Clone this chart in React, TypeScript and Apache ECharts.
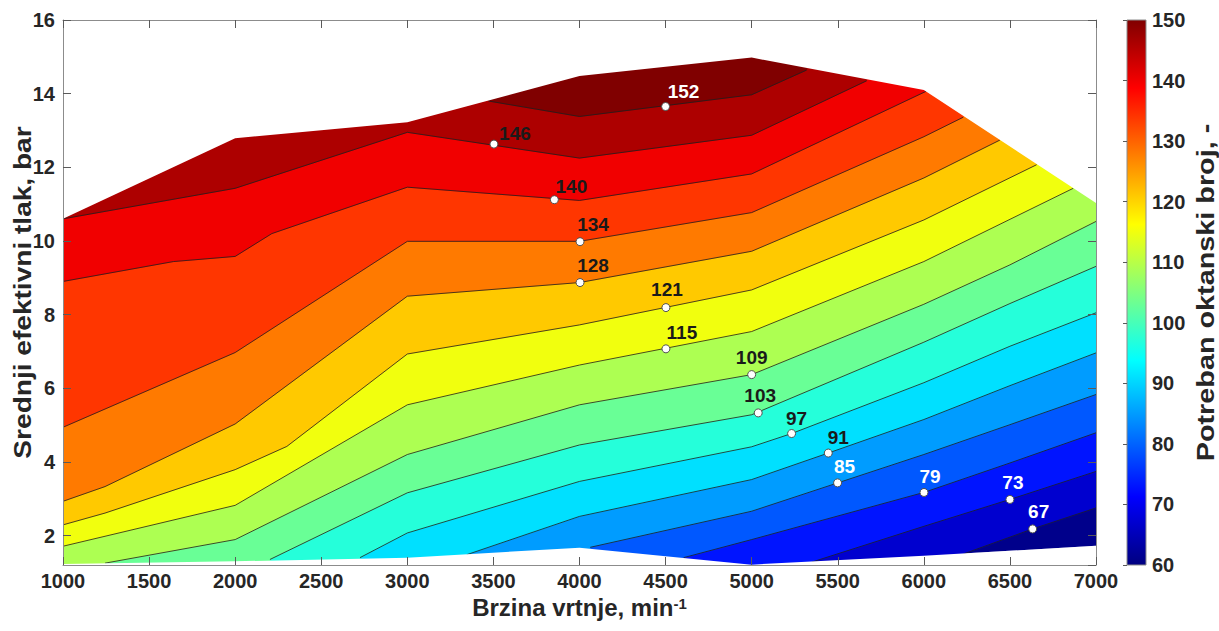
import React, { useEffect, useRef } from "react";
import * as echarts from "echarts";

// ---------- data (rpm, bar) ----------
const rpmMin = 1000;
const rpmMax = 7000;
const barMin = 1.2;
const barMax = 16;
const colorMin = 60;
const colorMax = 150;

const topBoundary = [[1000, 10.6], [2000, 12.79], [3000, 13.22], [4000, 14.48], [5000, 14.98], [6000, 14.1], [7000, 11.03]];
const bottomBoundary = [[1000, 1.23], [2000, 1.3], [3000, 1.4], [4000, 1.67], [5000, 1.21], [6000, 1.45], [7000, 1.72]];

const baseLevel = 61;
const levels = [67, 73, 79, 85, 91, 97, 103, 109, 115, 121, 128, 134, 140, 146, 152];

const c67 = [[6230, 1.5], [6632, 2.18], [7000, 2.75]];
const c73 = [[5350, 1.28], [6000, 2.25], [6500, 2.98], [7000, 3.74]];
const c79 = [[4605, 1.4], [5000, 1.89], [6000, 3.17], [6500, 3.97], [7000, 4.79]];
const c85 = [[4062, 1.68], [5000, 2.66], [5500, 3.43], [6000, 4.2], [6500, 5.01], [7000, 5.83]];
const c91 = [[3345, 1.48], [4000, 2.52], [5000, 3.52], [5445, 4.24], [6000, 5.15], [6500, 6.07], [7000, 6.96]];
const c97 = [[2725, 1.4], [3000, 2.07], [4000, 3.47], [5000, 4.41], [5232, 4.77], [6000, 6.15], [6500, 7.14], [7000, 8.05]];
const c103 = [[2202, 1.35], [3000, 3.16], [4000, 4.46], [5000, 5.28], [6000, 7.25], [6500, 8.3], [7000, 9.31]];
const c109 = [[1244, 1.25], [2000, 1.89], [3000, 4.2], [4000, 5.55], [5000, 6.37], [6000, 8.28], [6500, 9.35], [7000, 10.53]];
const c115 = [[1000, 1.71], [1244, 1.98], [2000, 2.82], [3000, 5.55], [4000, 6.63], [5000, 7.54], [6000, 9.44], [6868, 11.43]];
const c121 = [[1000, 2.29], [1244, 2.61], [2000, 3.79], [2300, 4.42], [3000, 6.93], [4000, 7.72], [5000, 8.67], [6000, 10.57], [6655, 12.07]];
const c128 = [[1000, 2.93], [1244, 3.33], [2000, 5.03], [3000, 8.5], [4000, 8.87], [5000, 9.72], [6000, 11.71], [6442, 12.74]];
const c134 = [[1000, 4.94], [2000, 6.97], [3000, 9.99], [4000, 9.99], [5000, 10.77], [6000, 12.83], [6229, 13.36]];
const c140 = [[1000, 8.9], [1641, 9.44], [2000, 9.58], [2213, 10.2], [3000, 11.46], [4000, 11.1], [5000, 11.82], [6016, 14.07]];
const c146 = [[1000, 10.6], [2000, 11.43], [3000, 12.95], [4000, 12.25], [5000, 12.87], [5668, 14.35]];
const c152 = [[3471, 13.8], [4000, 13.38], [5000, 13.97], [5319, 14.64]];

const contourLines = [c67, c73, c79, c85, c91, c97, c103, c109, c115, c121, c128, c134, c140, c146, c152];

// contour label markers (same order as levels)
const labelRpm = [6632, 6500, 6001, 5499, 5445, 5232, 5038, 5000, 4502, 4502, 4003, 4003, 3854, 3503, 4500];
const labelBar = [2.18, 2.98, 3.17, 3.43, 4.24, 4.77, 5.33, 6.37, 7.07, 8.19, 8.87, 9.98, 11.12, 12.63, 13.65];

// colorbar ticks
const colorTicks = [60, 70, 80, 90, 100, 110, 120, 130, 140, 150];

// titles
const xTitle = "Brzina vrtnje, min";
const xTitleSup = "-1";
const yTitle = "Srednji efektivni tlak, bar";
const colorbarTitle = "Potreban oktanski broj, -";

// ---------- styling ----------
const FONT = "'Liberation Sans', Arial, Helvetica, sans-serif";
const labelOffsets = [[6, -17], [3, -17], [6, -16], [7, -16], [10, -16], [5, -15], [2, -17], [0, -17], [16, -16], [1, -18], [13, -17], [13, -17], [17, -13], [21, -11], [18, -15]];
const whiteLabels = [67, 73, 79, 85, 152];

function jetChannel(x: number) {
  return Math.max(0, Math.min(1, 1.5 - Math.abs(x)));
}
function jet(t: number) {
  const u = Math.max(0, Math.min(1, t));
  const r = Math.round(255 * jetChannel(4 * u - 3));
  const g = Math.round(255 * jetChannel(4 * u - 2));
  const b = Math.round(255 * jetChannel(4 * u - 1));
  return `rgb(${r},${g},${b})`;
}
const colorOf = (v: number) => jet((v - colorMin) / (colorMax - colorMin));

function bandPolygon(pts: number[][]) {
  const s = pts[0];
  const e = pts[pts.length - 1];
  const poly: number[][] = [];
  if (s[0] > rpmMin && s[1] < 3) {
    poly.push([rpmMin, barMax], [rpmMin, barMin], [s[0], barMin]);
  } else {
    poly.push([s[0], barMax]);
  }
  pts.forEach((p) => poly.push(p));
  poly.push([e[0], barMax]);
  return poly;
}

const domainPoly = [...topBoundary, ...bottomBoundary.slice().reverse()];
const bandItems = [
  { poly: domainPoly, color: colorOf(baseLevel) },
  ...levels.map((l, i) => ({ poly: bandPolygon(contourLines[i]), color: colorOf(l) })),
];
const maskItems = [
  [[rpmMin, barMax], ...topBoundary, [rpmMax, barMax]],
  [[rpmMin, barMin], ...bottomBoundary, [rpmMax, barMin]],
];

const AXIS_COLOR = "#8c8c8c";
const TICK_COLOR = "#5a5a5a";
const TEXT_COLOR = "#262626";
const TITLE_SIZE = 24;

export default function App() {
  const ref = useRef<HTMLDivElement>(null);

  useEffect(() => {
    if (!ref.current) return;
    const chart = echarts.init(ref.current, undefined, { renderer: "svg" });

    const jetStops = [0, 0.125, 0.375, 0.625, 0.875, 1].map((t) => ({ offset: 1 - t, color: jet(t) })).reverse();

    const verticalTitle = (text: string, x: number, stretch: number) => ({
      type: "text",
      x,
      y: 292.5,
      rotation: Math.PI / 2,
      scaleX: stretch,
      silent: true,
      z: 20,
      style: {
        text,
        fontSize: TITLE_SIZE,
        fontWeight: "bold",
        fontFamily: FONT,
        fill: TEXT_COLOR,
        align: "center",
        verticalAlign: "middle",
      },
    });

    const option: any = {
      animation: false,
      backgroundColor: "#ffffff",
      textStyle: { fontFamily: FONT },
      grid: [
        { left: 63, top: 20, width: 1033, height: 545 },
        { left: 1127, top: 20, width: 19, height: 545 },
      ],
      graphic: [verticalTitle(yTitle, 23, 1.17), verticalTitle(colorbarTitle, 1206, 1.2)],
      xAxis: [
        {
          gridIndex: 0,
          type: "value",
          min: rpmMin,
          max: rpmMax,
          interval: 500,
          position: "bottom",
          z: 10,
          axisLine: { show: true, lineStyle: { color: AXIS_COLOR, width: 1 } },
          axisTick: { show: true, inside: true, length: 8, lineStyle: { color: TICK_COLOR } },
          splitLine: { show: false },
          axisLabel: {
            fontSize: 20,
            fontWeight: "bold",
            color: TEXT_COLOR,
            fontFamily: FONT,
            margin: 6,
            formatter: (v: number) => String(v),
          },
          name: `{a|${xTitle}}{s|${xTitleSup}}`,
          nameLocation: "middle",
          nameGap: 21,
          nameTextStyle: {
            rich: {
              a: { fontSize: TITLE_SIZE, fontWeight: "bold", color: TEXT_COLOR, fontFamily: FONT },
              s: { fontSize: 15, fontWeight: "bold", color: TEXT_COLOR, fontFamily: FONT, verticalAlign: "top" },
            },
          },
        },
        {
          gridIndex: 0,
          type: "value",
          min: rpmMin,
          max: rpmMax,
          interval: 500,
          position: "top",
          z: 10,
          axisLine: { show: true, lineStyle: { color: AXIS_COLOR, width: 1 } },
          axisTick: { show: true, inside: true, length: 8, lineStyle: { color: TICK_COLOR } },
          axisLabel: { show: false },
          splitLine: { show: false },
        },
        { gridIndex: 1, type: "value", min: 0, max: 1, show: false },
      ],
      yAxis: [
        {
          gridIndex: 0,
          type: "value",
          min: barMin,
          max: barMax,
          splitNumber: 7,
          position: "left",
          z: 10,
          axisLine: { show: true, lineStyle: { color: AXIS_COLOR, width: 1 } },
          axisTick: { show: true, inside: true, length: 8, lineStyle: { color: TICK_COLOR } },
          splitLine: { show: false },
          axisLabel: {
            fontSize: 20,
            fontWeight: "bold",
            color: TEXT_COLOR,
            fontFamily: FONT,
            margin: 8,
            showMinLabel: false,
          },
        },
        {
          gridIndex: 0,
          type: "value",
          min: barMin,
          max: barMax,
          splitNumber: 7,
          position: "right",
          z: 10,
          axisLine: { show: true, lineStyle: { color: AXIS_COLOR, width: 1 } },
          axisTick: { show: true, inside: true, length: 8, lineStyle: { color: TICK_COLOR } },
          axisLabel: { show: false },
          splitLine: { show: false },
        },
        {
          gridIndex: 1,
          type: "value",
          min: colorMin,
          max: colorMax,
          interval: 10,
          position: "right",
          z: 10,
          axisLine: { show: false },
          axisTick: { show: true, inside: true, length: 4, lineStyle: { color: TICK_COLOR } },
          splitLine: { show: false },
          axisLabel: {
            fontSize: 20,
            fontWeight: "bold",
            color: TEXT_COLOR,
            fontFamily: FONT,
            margin: 6,
            formatter: (v: number) => (colorTicks.indexOf(v) >= 0 ? String(v) : ""),
          },
        },
      ],
      series: [
        {
          type: "custom",
          name: "bands",
          xAxisIndex: 0,
          yAxisIndex: 0,
          clip: true,
          silent: true,
          z: 1,
          data: bandItems.map((_, i) => [4000, 8, i]),
          encode: { x: 0, y: 1 },
          renderItem: (params: any, api: any) => {
            const item = bandItems[params.dataIndex];
            return {
              type: "polygon",
              shape: { points: item.poly.map((p) => api.coord(p)) },
              style: { fill: item.color, stroke: item.color, lineWidth: 0.6 },
            };
          },
        },
        {
          type: "custom",
          name: "contours",
          xAxisIndex: 0,
          yAxisIndex: 0,
          clip: true,
          silent: true,
          z: 2,
          data: contourLines.map((_, i) => [4000, 8, i]),
          encode: { x: 0, y: 1 },
          renderItem: (params: any, api: any) => {
            const pts = contourLines[params.dataIndex];
            return {
              type: "polyline",
              shape: { points: pts.map((p) => api.coord(p)) },
              style: { fill: "none", stroke: "#1e1e1e", lineWidth: 0.8 },
            };
          },
        },
        {
          type: "custom",
          name: "mask",
          xAxisIndex: 0,
          yAxisIndex: 0,
          clip: true,
          silent: true,
          z: 3,
          data: maskItems.map((_, i) => [4000, 8, i]),
          encode: { x: 0, y: 1 },
          renderItem: (params: any, api: any) => {
            const pts = maskItems[params.dataIndex];
            return {
              type: "polygon",
              shape: { points: pts.map((p) => api.coord(p)) },
              style: { fill: "#ffffff", stroke: "none" },
            };
          },
        },
        {
          type: "scatter",
          name: "labels",
          xAxisIndex: 0,
          yAxisIndex: 0,
          z: 5,
          symbol: "circle",
          symbolSize: 8,
          itemStyle: { color: "#ffffff", borderColor: "#505050", borderWidth: 1, opacity: 1 },
          label: {
            show: true,
            position: "inside",
            fontSize: 19,
            fontWeight: "bold",
            fontFamily: FONT,
            formatter: (p: any) => String(levels[p.dataIndex]),
          },
          data: levels.map((l, i) => ({
            value: [labelRpm[i], labelBar[i]],
            label: {
              offset: labelOffsets[i],
              color: whiteLabels.indexOf(l) >= 0 ? "#ffffff" : "#1a1a1a",
            },
          })),
        },
        {
          type: "custom",
          name: "colorbar",
          xAxisIndex: 2,
          yAxisIndex: 2,
          silent: true,
          z: 1,
          data: [[0, colorMin]],
          renderItem: (params: any, api: any) => {
            const a = api.coord([0, colorMax]);
            const b = api.coord([1, colorMin]);
            return {
              type: "rect",
              shape: { x: a[0], y: a[1], width: b[0] - a[0], height: b[1] - a[1] },
              style: {
                fill: new echarts.graphic.LinearGradient(0, 0, 0, 1, jetStops),
                stroke: AXIS_COLOR,
                lineWidth: 1,
              },
            };
          },
        },
      ],
    };

    chart.setOption(option);
    return () => chart.dispose();
  }, []);

  return (
    <div
      ref={ref}
      style={{ position: "fixed", left: 0, top: 0, width: "1219px", height: "631px", background: "#fff" }}
    />
  );
}
